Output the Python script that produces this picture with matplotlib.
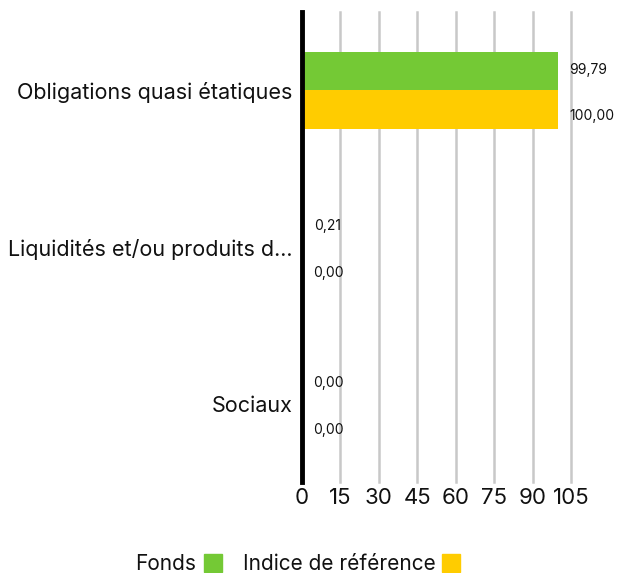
import numpy as np
import matplotlib.pyplot as plt

plt.rcParams['font.family'] = ['Inter', 'DejaVu Sans']

# Données
categories = ["Obligations quasi étatiques", "Liquidités et/ou produits d...", "Sociaux"]
fonds = [99.79, 0.21, 0.00]
indice = [100.00, 0.00, 0.00]
series_noms = ["Fonds", "Indice de référence"]
couleurs = ["#74c935", "#ffcc00"]
xticks = [0, 15, 30, 45, 60, 75, 90, 105]

fig = plt.figure(figsize=(6.18, 5.73), dpi=100)
ax = fig.add_axes([302 / 618, 1 - 482 / 573, (571 - 302) / 618, 470 / 573])

y = np.arange(len(categories))
h = 0.245
ax.barh(y - h / 2, fonds, height=h, color=couleurs[0], zorder=3)
ax.barh(y + h / 2, indice, height=h, color=couleurs[1], zorder=3)

# Etiquettes des valeurs (un peu écartées comme sur l'original)
for i in range(len(categories)):
    for val, off, dy in ((fonds[i], -h / 2, 1), (indice[i], h / 2, -5)):
        ax.annotate(f"{val:.2f}".replace(".", ","), (val, y[i] + off),
                    xytext=(8, dy), textcoords="offset points",
                    ha="left", va="center", fontsize=10, color="#111111")

ax.set_xlim(0, 105)
ax.set_ylim(len(categories) - 0.5, -0.5)
ax.set_xticks(xticks)
ax.set_xticklabels([str(t) for t in xticks], fontsize=16, color="#111111")
ax.set_yticks(y)
ax.set_yticklabels(categories, fontsize=15.5, color="#111111")
ax.tick_params(axis="both", length=0, pad=4)
ax.tick_params(axis="y", pad=7)

ax.grid(axis="x", color="#c8c8c8", linewidth=1.8, zorder=0)
for line in ax.get_xgridlines():
    line.set_clip_on(False)
for s in ["top", "right", "bottom"]:
    ax.spines[s].set_visible(False)
ax.spines["left"].set_linewidth(3.5)
ax.spines["left"].set_color("black")
ax.spines["left"].set_zorder(4)

# Légende
fig.text(135 / 618, 1 - 564 / 573, series_noms[0], fontsize=15, va="center", color="#111111")
fig.patches.append(plt.Rectangle((204 / 618, 1 / 573), 18 / 618, 18 / 573,
                                 transform=fig.transFigure, color=couleurs[0]))
fig.text(243 / 618, 1 - 564 / 573, series_noms[1], fontsize=15, va="center", color="#111111")
fig.patches.append(plt.Rectangle((442 / 618, 1 / 573), 18 / 618, 18 / 573,
                                 transform=fig.transFigure, color=couleurs[1]))

fig.savefig("out.png", dpi=100)
